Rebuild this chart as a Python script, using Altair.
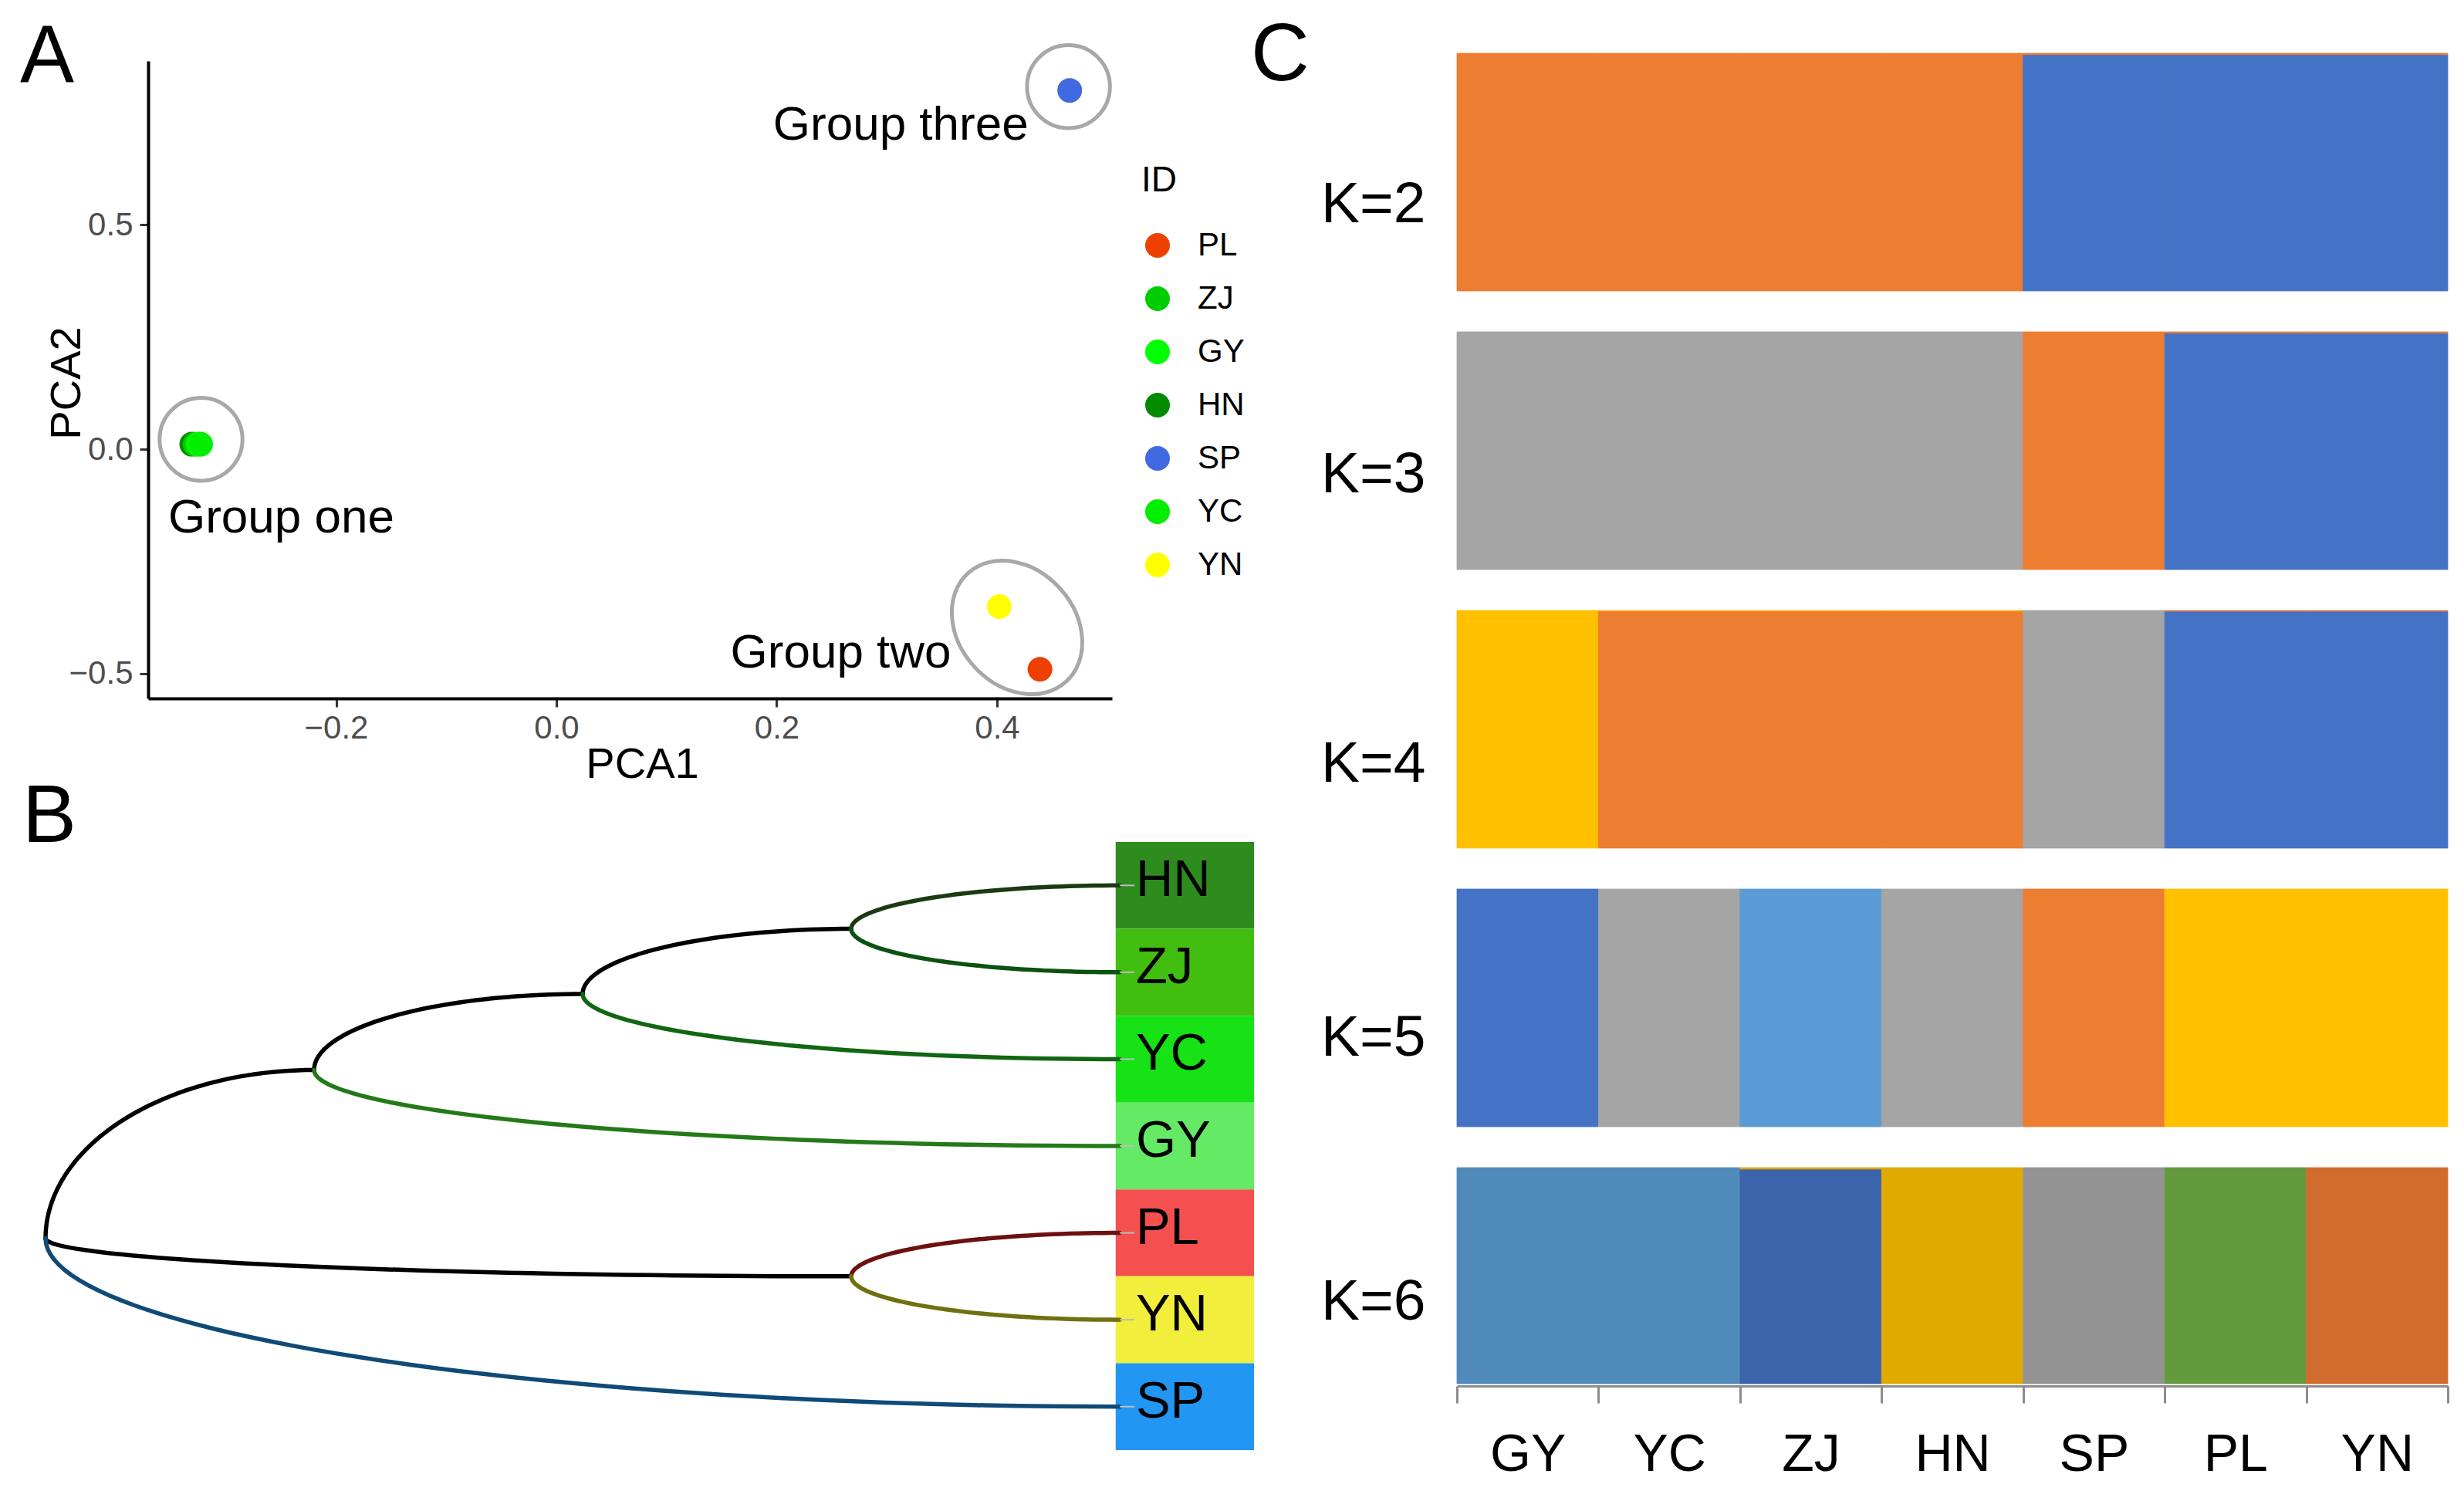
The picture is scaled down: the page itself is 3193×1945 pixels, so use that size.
import json
import altair as alt
import pandas as pd

FONT = "Liberation Sans"

# ---------------- Panel A : PCA ----------------
pca_ids = ["SP", "PL", "YN", "HN", "ZJ", "GY", "YC"]
pca1_vals = [0.466, 0.439, 0.402, -0.331, -0.328, -0.325, -0.323]
pca2_vals = [0.800, -0.491, -0.351, 0.011, 0.011, 0.011, 0.011]
id_order = ["PL", "ZJ", "GY", "HN", "SP", "YC", "YN"]
id_colors = ["#EE4000", "#00CD00", "#00FF00", "#008B00", "#4169E1", "#00EE00", "#FFFF00"]

ring_names = ["Group one", "Group three"]
ring_x = [-0.3226, 0.4649]
ring_y = [0.0219, 0.8084]
oval_names = ["Group two"]
oval_x = [0.4182]
oval_y = [-0.3976]

label_left_text = ["Group one"]
label_left_x = [-0.3524]
label_left_y = [-0.1864]
label_right_text = ["Group two", "Group three"]
label_right_x = [0.3584, 0.4285]
label_right_y = [-0.4871, 0.690]

pca_x_ticks = [-0.2, 0.0, 0.2, 0.4]
pca_y_ticks = [-0.5, 0.0, 0.5]
pca_x_domain = [-0.3706, 0.5044]
pca_y_domain = [-0.5559, 0.8657]

# ---------------- Panel B : tree ----------------
tree_children = {
    "root": ["N1", "N4", "SP"],
    "N1": ["N2", "GY"],
    "N2": ["N3", "YC"],
    "N3": ["HN", "ZJ"],
    "N4": ["PL", "YN"],
}
tip_names = ["HN", "ZJ", "YC", "GY", "PL", "YN", "SP"]
tip_fill = ["#2E8C1F", "#42BE10", "#16E216", "#64EA64", "#F55050", "#F2EE3C", "#2196F3"]
branch_child = ["N1", "N2", "N3", "N4", "HN", "ZJ", "YC", "GY", "PL", "YN", "SP"]
branch_color = ["#000000", "#000000", "#000000", "#000000",
                "#1C3A10", "#0B5210", "#116612", "#247A18", "#6E1010", "#6F7010", "#0F4A78"]

# ---------------- Panel C : admixture ----------------
pops = ["GY", "YC", "ZJ", "HN", "SP", "PL", "YN"]
k_values = [2, 3, 4, 5, 6]
k_colors = {
    2: ["#ED7D31", "#4472C4"],
    3: ["#A5A5A5", "#ED7D31", "#4472C4"],
    4: ["#FFC000", "#ED7D31", "#A5A5A5", "#4472C4"],
    5: ["#4472C4", "#A5A5A5", "#5B9BD5", "#ED7D31", "#FFC000"],
    6: ["#508ABB", "#3C64AA", "#E0AA00", "#939393", "#639A3E", "#D26C2E"],
}
q_k2 = [[1, 0], [1, 0], [1, 0], [1, 0], [0.008, 0.992], [0.008, 0.992], [0.008, 0.992]]
q_k3 = [[1, 0, 0], [1, 0, 0], [1, 0, 0], [1, 0, 0], [0, 1, 0], [0, 0.008, 0.992], [0, 0.008, 0.992]]
q_k4 = [[1, 0, 0, 0], [0.004, 0.996, 0, 0], [0.004, 0.996, 0, 0], [0.004, 0.996, 0, 0],
        [0, 0, 1, 0], [0, 0.006, 0, 0.994], [0, 0.006, 0, 0.994]]
q_k5 = [[1, 0, 0, 0, 0], [0, 1, 0, 0, 0], [0, 0, 1, 0, 0], [0, 1, 0, 0, 0],
        [0, 0, 0, 1, 0], [0, 0, 0, 0, 1], [0, 0, 0, 0, 1]]
q_k6 = [[1, 0, 0, 0, 0, 0], [1, 0, 0, 0, 0, 0], [0, 0.993, 0.007, 0, 0, 0], [0, 0, 1, 0, 0, 0],
        [0, 0, 0, 1, 0, 0], [0, 0, 0, 0, 1, 0], [0, 0, 0, 0, 0, 1]]
q_by_k = {2: q_k2, 3: q_k3, 4: q_k4, 5: q_k5, 6: q_k6}

# ================= layout (pixels) =================
A_W, A_H = 1249, 836          # panel A view (top at 68, axis at 904)
B_H = 788                     # panel B view
C_W = 1284
C_GAP = 1696                  # left column origin (x=191) to panel C origin (x=1887)
ROW_H = {2: 308, 3: 308, 4: 308, 5: 308, 6: 280}
K_LABEL_Y = {2: 218, 3: 207, 4: 221, 5: 215, 6: 196}
LETTER_SIZE = 105

# ---------------- build A ----------------
XA = dict(scale=alt.Scale(domain=pca_x_domain, nice=False, zero=False),
          axis=alt.Axis(values=pca_x_ticks, format=".1f", title="PCA1", grid=False,
                        labelFont=FONT, labelFontSize=42, labelColor="#4D4D4D", labelPadding=7,
                        labelFlush=False, tickSize=11, tickWidth=3, tickColor="#333333",
                        domainColor="black", domainWidth=4,
                        titleFont=FONT, titleFontSize=56, titleFontWeight="normal", titleColor="black",
                        titleAlign="center", titleBaseline="alphabetic", titleX=640, titleY=102))
YA = dict(scale=alt.Scale(domain=pca_y_domain, range=[A_H, 10], nice=False, zero=False),
          axis=alt.Axis(values=pca_y_ticks, format=".1f", title="PCA2", grid=False,
                        labelFont=FONT, labelFontSize=42, labelColor="#4D4D4D", labelPadding=9,
                        labelFlush=False, tickSize=11, tickWidth=3, tickColor="#333333",
                        domainColor="black", domainWidth=4,
                        titleFont=FONT, titleFontSize=56, titleFontWeight="normal", titleColor="black",
                        titleAngle=270, titleAlign="center", titleBaseline="alphabetic",
                        titleX=-89, titleY=427))

df_pts = pd.DataFrame({"ID": pca_ids, "PCA1": pca1_vals, "PCA2": pca2_vals})
df_ring = pd.DataFrame({"g": ring_names, "PCA1": ring_x, "PCA2": ring_y})
df_oval = pd.DataFrame({"g": oval_names, "PCA1": oval_x, "PCA2": oval_y})
df_tl = pd.DataFrame({"label": label_left_text, "PCA1": label_left_x, "PCA2": label_left_y})
df_tr = pd.DataFrame({"label": label_right_text, "PCA1": label_right_x, "PCA2": label_right_y})

OVAL_PATH = "M -1 0 A 1 0.794 0 1 0 1 0 A 1 0.794 0 1 0 -1 0 Z"

rings = alt.Chart(df_ring).mark_point(shape="circle", size=11535, filled=False, color="#A8A8A8",
                                      strokeWidth=5, opacity=1).encode(
    x=alt.X("PCA1:Q", **XA), y=alt.Y("PCA2:Q", **YA))
oval = alt.Chart(df_oval).mark_point(shape=OVAL_PATH, size=35872, angle=48, filled=False,
                                     color="#A8A8A8", strokeWidth=5, opacity=1).encode(
    x=alt.X("PCA1:Q", **XA), y=alt.Y("PCA2:Q", **YA))
pts = alt.Chart(df_pts).mark_circle(size=1024, opacity=1).encode(
    x=alt.X("PCA1:Q", **XA), y=alt.Y("PCA2:Q", **YA),
    color=alt.Color("ID:N", scale=alt.Scale(domain=id_order, range=id_colors),
                    legend=alt.Legend(title="ID", orient="none", legendX=1287, legendY=143,
                                      direction="vertical", padding=0,
                                      titleFont=FONT, titleFontSize=46, titleFontWeight="normal",
                                      titleColor="black", titlePadding=39,
                                      labelFont=FONT, labelFontSize=42, labelColor="black",
                                      labelOffset=31, rowPadding=27,
                                      symbolType="circle", symbolSize=1024, symbolStrokeWidth=0,
                                      symbolOpacity=1)))
txt_l = alt.Chart(df_tl).mark_text(align="left", baseline="alphabetic", fontSize=62, font=FONT,
                                   color="black").encode(
    x=alt.X("PCA1:Q", **XA), y=alt.Y("PCA2:Q", **YA), text="label:N")
txt_r = alt.Chart(df_tr).mark_text(align="right", baseline="alphabetic", fontSize=62, font=FONT,
                                   color="black").encode(
    x=alt.X("PCA1:Q", **XA), y=alt.Y("PCA2:Q", **YA), text="label:N")
letter_a = alt.Chart(pd.DataFrame({"t": ["A"]})).mark_text(
    align="left", baseline="alphabetic", fontSize=LETTER_SIZE, font=FONT, color="black").encode(
    x=alt.value(-166), y=alt.value(37), text="t:N")
anchor = alt.Chart(pd.DataFrame({"t": [0]})).mark_rect(opacity=0).encode(
    x=alt.value(8 - 191), x2=alt.value(9 - 191), y=alt.value(8 - 68), y2=alt.value(9 - 68))

chart_a = alt.layer(rings, oval, pts, txt_l, txt_r, letter_a, anchor).properties(width=A_W, height=A_H)

# ---------------- build B ----------------
tip_order = []


def walk(n):
    if n in tree_children:
        for c in tree_children[n]:
            walk(c)
    else:
        tip_order.append(n)


walk("root")
tip_index = {n: i + 1 for i, n in enumerate(tip_order)}


def node_height(n):
    return 0 if n not in tree_children else 1 + max(node_height(c) for c in tree_children[n])


H = node_height("root")


def node_x(n):
    return H - node_height(n)


def node_y(n):
    if n not in tree_children:
        return tip_index[n]
    kids = tree_children[n]
    return (node_y(kids[0]) + node_y(kids[-1])) / 2


parent_of = {c: p for p, cs in tree_children.items() for c in cs}
df_edges = pd.DataFrame({
    "child": branch_child,
    "px": [node_x(parent_of[c]) for c in branch_child],
    "py": [node_y(parent_of[c]) for c in branch_child],
    "cx": [node_x(c) for c in branch_child],
    "cy": [node_y(c) for c in branch_child],
})
df_tips = pd.DataFrame({
    "tip": tip_names,
    "ty": [tip_index[t] for t in tip_names],
    "ty0": [tip_index[t] - 0.5 for t in tip_names],
    "ty1": [tip_index[t] + 0.5 for t in tip_names],
    "bx0": [H - 0.015] * len(tip_names),
    "bx1": [H + 0.5] * len(tip_names),
    "lx": [H + 0.06] * len(tip_names),
    "cx0": [H] * len(tip_names),
    "cx1": [H + 0.055] * len(tip_names),
})

XB_SCALE = alt.Scale(domain=[0, H + 0.5], range=[-133, 1433], nice=False, zero=False)
YB_SCALE = alt.Scale(domain=[0.5, len(tip_names) + 0.5], range=[0, B_H], nice=False, zero=False)

boxes = alt.Chart(df_tips).mark_rect().encode(
    x=alt.X("bx0:Q", scale=XB_SCALE, axis=None), x2="bx1:Q",
    y=alt.Y("ty0:Q", scale=YB_SCALE, axis=None), y2="ty1:Q",
    fill=alt.Fill("tip:N", scale=alt.Scale(domain=tip_names, range=tip_fill), legend=None))
edges = alt.Chart(df_edges).transform_calculate(
    t="sequence(0, 1.0001, 0.02)"
).transform_flatten(["t"]).transform_calculate(
    ex="datum.cx - (datum.cx - datum.px) * cos(datum.t * PI / 2)",
    ey="datum.py + (datum.cy - datum.py) * sin(datum.t * PI / 2)",
).mark_line(strokeWidth=5.5, strokeCap="round", strokeJoin="round").encode(
    x=alt.X("ex:Q", scale=XB_SCALE, axis=None),
    y=alt.Y("ey:Q", scale=YB_SCALE, axis=None),
    detail="child:N", order="t:Q",
    stroke=alt.Stroke("child:N", scale=alt.Scale(domain=branch_child, range=branch_color), legend=None))
connectors = alt.Chart(df_tips).mark_rule(color="#BDBDBD", strokeWidth=2).encode(
    x=alt.X("cx0:Q", scale=XB_SCALE, axis=None), x2="cx1:Q",
    y=alt.Y("ty:Q", scale=YB_SCALE, axis=None))
tip_text = alt.Chart(df_tips).mark_text(align="left", baseline="middle", dy=-6, fontSize=67,
                                        font=FONT, color="black").encode(
    x=alt.X("lx:Q", scale=XB_SCALE, axis=None),
    y=alt.Y("ty:Q", scale=YB_SCALE, axis=None), text="tip:N")
letter_b = alt.Chart(pd.DataFrame({"t": ["B"]})).mark_text(
    align="left", baseline="alphabetic", fontSize=LETTER_SIZE, font=FONT, color="black").encode(
    x=alt.value(-163), y=alt.value(0), text="t:N")

chart_b = alt.layer(boxes, edges, connectors, tip_text, letter_b).properties(width=A_W, height=B_H)

# ---------------- build C ----------------
half_band = C_W / len(pops) / 2
x_axis_c = alt.Axis(values=list(range(len(pops) + 1)),
                    labelExpr=json.dumps(pops) + "[datum.value] || ''",
                    labelOffset={"condition": {"test": f"datum.value >= {len(pops)}", "value": 0},
                                 "value": half_band},
                    labelFlush=False, labelOverlap=False,
                    labelFont=FONT, labelFontSize=68, labelColor="black", labelPadding=33,
                    labelBaseline="top", labelAlign="center",
                    tickSize=22, tickWidth=3, tickColor="#8C8C8C",
                    domainColor="#8C8C8C", domainWidth=3, grid=False, title=None, offset=3)

rows = []
for k in k_values:
    recs = []
    for i, p in enumerate(pops):
        for j, f in enumerate(q_by_k[k][i]):
            if f > 0:
                recs.append({"pop": p, "x0": i, "x1": i + 1, "cluster": f"K{k}_{j + 1}", "frac": f})
    dfk = pd.DataFrame(recs)
    cl_dom = [f"K{k}_{j + 1}" for j in range(len(k_colors[k]))]
    cl_scale = alt.Scale(domain=cl_dom, range=k_colors[k])
    y_axis = alt.Axis(title=f"K={k}", titleAngle=0, titleAlign="right", titleBaseline="alphabetic",
                      titleX=-41, titleY=K_LABEL_Y[k], titleFont=FONT, titleFontSize=75,
                      titleFontWeight="normal", titleColor="black",
                      labels=False, ticks=False, domain=False, grid=False)
    bars = alt.Chart(dfk).transform_window(
        cum="sum(frac)", groupby=["pop"], sort=[alt.SortField("frac", order="descending")],
        frame=[None, 0]
    ).transform_calculate(y0="datum.cum - datum.frac").mark_rect(strokeWidth=0.8).encode(
        x=alt.X("x0:Q", scale=alt.Scale(domain=[0, len(pops)], nice=False, zero=False),
                axis=x_axis_c if k == k_values[-1] else None),
        x2="x1:Q",
        y=alt.Y("y0:Q", scale=alt.Scale(domain=[0, 1], nice=False, zero=False), axis=y_axis),
        y2="cum:Q",
        fill=alt.Fill("cluster:N", scale=cl_scale, legend=None),
        stroke=alt.Stroke("cluster:N", scale=cl_scale, legend=None),
    )
    layers = [bars]
    if k == k_values[0]:
        layers.append(alt.Chart(pd.DataFrame({"t": ["C"]})).mark_text(
            align="left", baseline="alphabetic", fontSize=LETTER_SIZE, font=FONT, color="black").encode(
            x=alt.value(-267), y=alt.value(35), text="t:N"))
    rows.append(alt.layer(*layers).properties(width=C_W, height=ROW_H[k]))

left = alt.vconcat(chart_a, chart_b, spacing=186, bounds="flush").resolve_scale(
    color="independent", fill="independent", stroke="independent")
right = alt.vconcat(*rows, spacing=53, bounds="flush").resolve_scale(
    fill="independent", stroke="independent")
chart = alt.hconcat(left, right, spacing=C_GAP, bounds="flush").resolve_scale(
    color="independent", fill="independent", stroke="independent"
).properties(padding=0).configure(font=FONT).configure_view(stroke="transparent")

chart.save("out.html", embed_options={"renderer": "svg", "actions": False})
